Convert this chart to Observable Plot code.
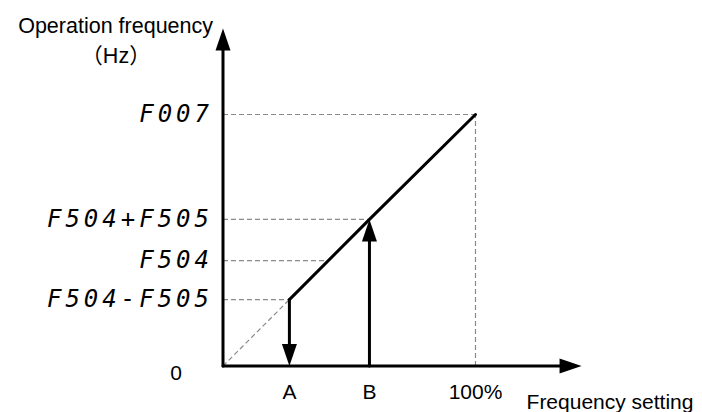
<!DOCTYPE html>
<html>
<head>
<meta charset="utf-8">
<script src="https://cdn.jsdelivr.net/npm/d3@7"></script>
<script src="https://cdn.jsdelivr.net/npm/@observablehq/plot@0.6"></script>
<style>
  html, body { margin: 0; padding: 0; background: #fff; }
</style>
</head>
<body>
<script>
// ---- data (percent of full scale) ----
const xTickLabels = ["A", "B", "100%"];
const xTickValues = [26.3, 58.0, 100];
const yTickLabels = ["F504-F505", "F504", "F504+F505", "F007"];
const yTickValues = [26.4, 41.9, 58.3, 100];
const guideEnds = [26.3, 41.8, 58.0, 100];       // where each horizontal guide meets the curve
const curveX = [26.3, 58.0, 100];
const curveY = [26.4, 58.3, 100];
const axisEnds = [142, 134.2];                    // x-axis tip, y-axis tip
const xTitle = "Frequency setting";
const yTitle = ["Operation frequency", "（Hz）"];

const curve = curveX.map((x, i) => ({x, y: curveY[i]}));
const guides = yTickValues.map((y, i) => ({y, x2: guideEnds[i]}));
const ticksX = xTickValues.map((x, i) => ({x, label: xTickLabels[i]}));
const ticksY = yTickValues.map((y, i) => ({y, label: yTickLabels[i]}));

const heads = [
  {x: 0, y: axisEnds[1], rot: 0},
  {x: axisEnds[0], y: 0, rot: 90},
  {x: xTickValues[0], y: 0, rot: 180},
  {x: xTickValues[1], y: yTickValues[2], rot: 0}
];
const headSymbol = {
  draw(ctx) { ctx.moveTo(0, 0); ctx.lineTo(7.5, 22); ctx.lineTo(-7.5, 22); ctx.closePath(); }
};

const dash = {stroke: "#8a8a8a", strokeWidth: 1.2, strokeDasharray: "5,3"};

const chart = Plot.plot({
  width: 702,
  height: 412,
  x: {domain: [0, 100], range: [222.5, 475], axis: null},
  y: {domain: [0, 100], range: [365.5, 114], axis: null},
  style: {fontFamily: "'Liberation Sans', Arial, sans-serif", background: "#fff", color: "#000"},
  marks: [
    // dashed guides
    Plot.link(guides, {x1: 0, x2: "x2", y1: "y", y2: "y", ...dash}),
    Plot.link([0], {x1: xTickValues[2], x2: xTickValues[2], y1: 0, y2: yTickValues[3], ...dash}),
    Plot.link([0], {x1: 0, y1: 0, x2: curveX[0], y2: curveY[0], ...dash}),
    // curve
    Plot.line(curve, {x: "x", y: "y", stroke: "#000", strokeWidth: 3}),
    // arrow shafts
    Plot.arrow([0], {x1: xTickValues[0], y1: yTickValues[0], x2: xTickValues[0], y2: 0,
      headLength: 0, insetEnd: 18, stroke: "#000", strokeWidth: 3}),
    Plot.arrow([0], {x1: xTickValues[1], y1: 0, x2: xTickValues[1], y2: yTickValues[2],
      headLength: 0, insetEnd: 16, stroke: "#000", strokeWidth: 3}),
    // axes
    Plot.arrow([0], {x1: 0, y1: 0, x2: axisEnds[0], y2: 0, headLength: 0, insetEnd: 16, stroke: "#000", strokeWidth: 3}),
    Plot.arrow([0], {x1: 0, y1: 0, x2: 0, y2: axisEnds[1], headLength: 0, insetEnd: 16, stroke: "#000", strokeWidth: 3}),
    Plot.dot(heads, {x: "x", y: "y", rotate: "rot", symbol: headSymbol, fill: "#000", stroke: "none", r: 5}),
    // tick labels
    Plot.text(ticksX, {x: "x", y: 0, text: "label", dy: 26, fontSize: 21, fill: "#000"}),
    Plot.text(["0"], {x: 0, y: 0, text: d => d, dx: -47, dy: 7, fontSize: 21, fill: "#000"}),
    Plot.text(ticksY, {x: 0, y: "y", text: "label", textAnchor: "end", dx: -10, fontSize: 24,
      fontFamily: "'DejaVu Sans Mono', monospace", fontStyle: "italic", fill: "#000"}),
    // titles
    Plot.text([xTitle], {x: axisEnds[0], y: 0, text: d => d, textAnchor: "start", dx: -55, dy: 36, fontSize: 21, fill: "#000"}),
    Plot.text([yTitle[0]], {x: 0, y: axisEnds[1], text: d => d, textAnchor: "end", dx: -10, dy: -2, fontSize: 21.5, fill: "#000"}),
    Plot.text([yTitle[1]], {x: 0, y: axisEnds[1], text: d => d, dx: -107, dy: 28, fontSize: 21.5, fill: "#000",
      fontFamily: "'Liberation Sans', 'Noto Sans CJK SC', sans-serif"})
  ]
});
// seven-segment-like spacing for the parameter labels
d3.select(chart).selectAll("g[font-style='italic'] text").style("letter-spacing", "4px");
document.body.appendChild(chart);
</script>
</body>
</html>
